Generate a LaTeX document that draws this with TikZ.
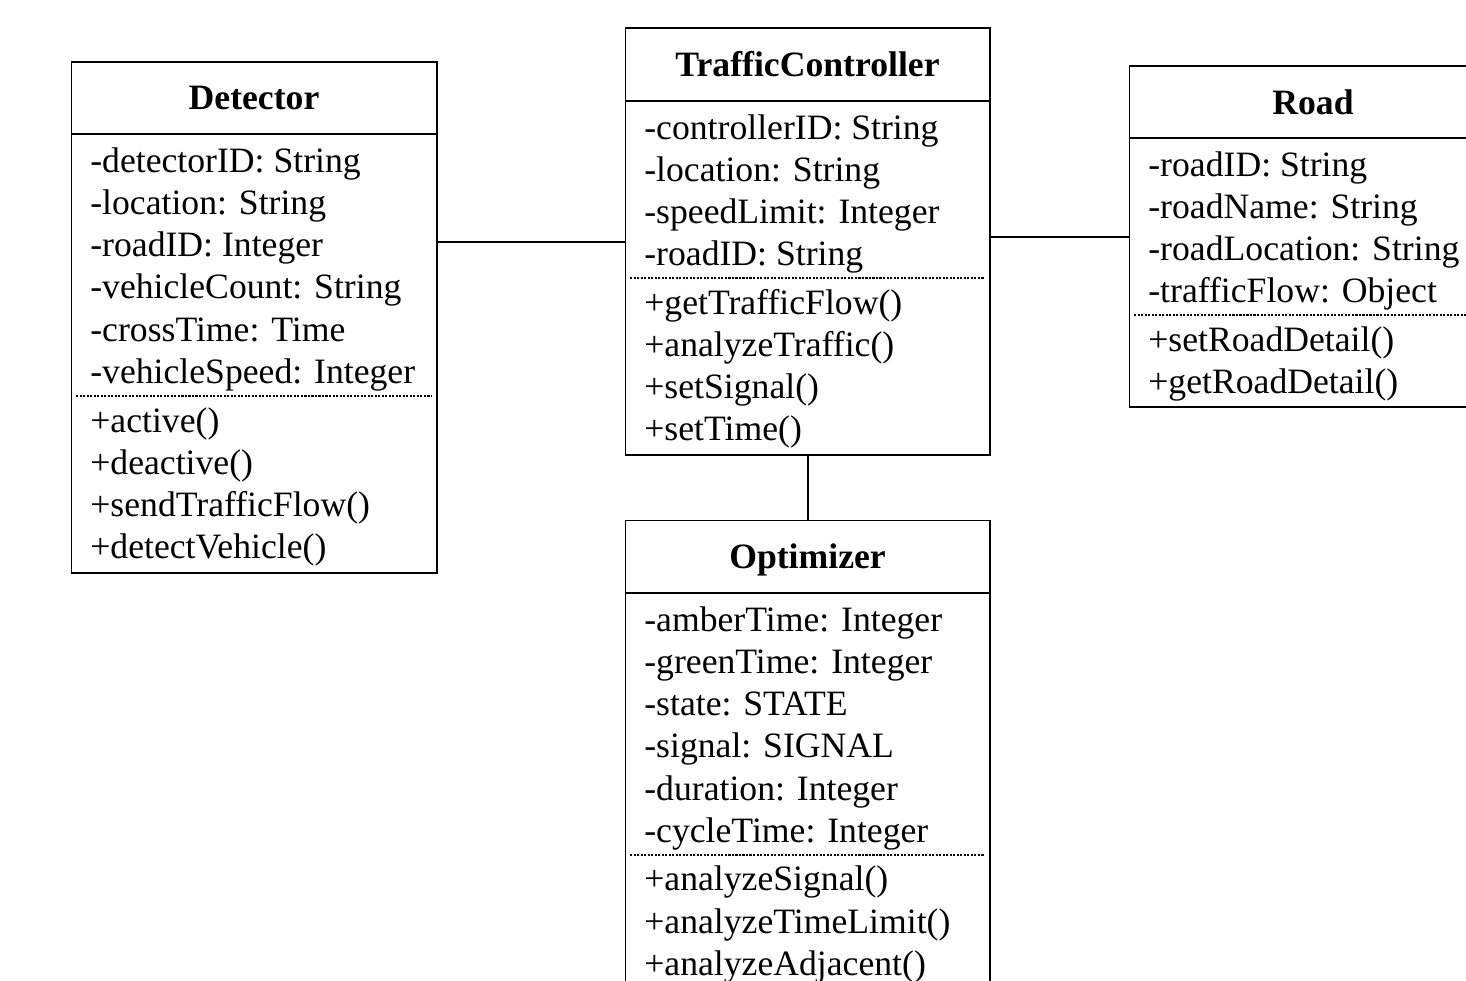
\documentclass[tikz,border=0pt]{standalone}
\usepackage{fontspec}
\setmainfont{Liberation Serif}
\usetikzlibrary{calc,positioning}
\tikzset{%
	classbox/.style  = {draw, line width=1pt, rectangle, anchor=north west, inner sep=0pt},
	classname/.style = {font=\fontsize{20.3}{24}\selectfont\bfseries, inner sep=0pt, anchor=base},
	members/.style   = {font=\fontsize{20.3}{24}\selectfont, align=left, inner sep=0pt, anchor=north west},
	divider/.style   = {line width=0.6pt, dash pattern=on 1.2pt off 0.8pt},
	rule/.style      = {line width=1pt},
	link/.style      = {line width=1pt},
}

\begin{document}
\begin{tikzpicture}[x=0.02cm, y=-0.02cm]
	\useasboundingbox (0,0) rectangle (1466,980);
	\clip (0,0) rectangle (1466,980);
	
	% Detector
	\node[classbox, minimum width=7.32cm, minimum height=10.22cm] (detector) at (70.5,61.5) {};
	\node[classname] (detectorname) at (254,110) {Detector};
	\draw[rule] (71,134) -- (437,134);
	\node[members] (detectorattr) at (90,142.5) {\strut-detectorID: String\\-location: String\\-roadID: Integer\\-vehicleCount: String\\-crossTime: Time\\-vehicleSpeed: Integer};
	\draw[divider] (76,396) -- (431,396);
	\node[members] (detectorops) at (90,402.5) {\strut+active()\\+deactive()\\+sendTrafficFlow()\\+detectVehicle()};
	
	% TrafficController
	\node[classbox, minimum width=7.30cm, minimum height=8.54cm] (controller) at (624.5,27.5) {};
	\node[classname] (controllername) at (807.5,76.5) {TrafficController};
	\draw[rule] (625,101) -- (990,101);
	\node[members] (controllerattr) at (644,109.5) {\strut-controllerID: String\\-location: String\\-speedLimit: Integer\\-roadID: String};
	\draw[divider] (630,278) -- (984,278);
	\node[members] (controllerops) at (644,284.5) {\strut+getTrafficFlow()\\+analyzeTraffic()\\+setSignal()\\+setTime()};
	
	% Road
	\node[classbox, minimum width=7.36cm, minimum height=6.82cm] (road) at (1128.5,65.5) {};
	\node[classname] (roadname) at (1313,114) {Road};
	\draw[rule] (1129,138) -- (1497,138);
	\node[members] (roadattr) at (1148,146.5) {\strut-roadID: String\\-roadName: String\\-roadLocation: String\\-trafficFlow: Object};
	\draw[divider] (1134,315) -- (1491,315);
	\node[members] (roadops) at (1148,321.5) {\strut+setRoadDetail()\\+getRoadDetail()};
	
	% Optimizer
	\node[classbox, minimum width=7.30cm, minimum height=9.38cm] (optimizer) at (624.5,519.5) {};
	\node[classname] (optimizername) at (807.5,568.5) {Optimizer};
	\draw[rule] (625,593) -- (990,593);
	\node[members] (optimizerattr) at (644,601.5) {\strut-amberTime: Integer\\-greenTime: Integer\\-state: STATE\\-signal: SIGNAL\\-duration: Integer\\-cycleTime: Integer};
	\draw[divider] (630,855) -- (984,855);
	\node[members] (optimizerops) at (644,861) {\strut+analyzeSignal()\\+analyzeTimeLimit()\\+analyzeAdjacent()};
	
	% associations
	\draw[link] (controller.west) -- (controller.west -| detector.east);
	\draw[link] (road.west) -- (road.west -| controller.east);
	\draw[link] (controller.south) -- (optimizer.north);
\end{tikzpicture}
\end{document}
